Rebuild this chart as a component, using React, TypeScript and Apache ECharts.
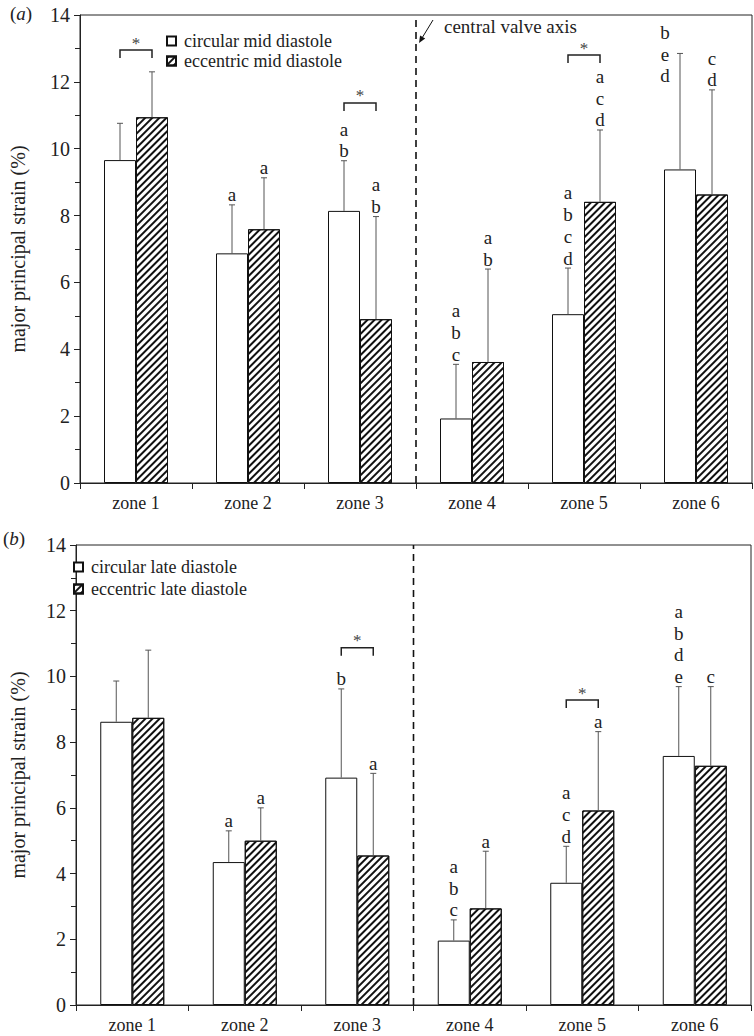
import React, { useEffect, useRef } from "react";
import * as echarts from "echarts";

const FONT = "'Liberation Serif', 'Times New Roman', serif";

const zones = ["zone 1", "zone 2", "zone 3", "zone 4", "zone 5", "zone 6"];

// panel (a) mid diastole
const circMid = [9.66, 6.87, 8.14, 1.93, 5.05, 9.38];
const circMidUpper = [10.76, 8.32, 9.64, 3.55, 6.43, 12.85];
const eccMid = [10.94, 7.59, 4.9, 3.62, 8.41, 8.63];
const eccMidUpper = [12.3, 9.13, 7.97, 6.4, 10.56, 11.76];
const circMidLetters = ["", "a", "ab", "abc", "abcd", "bed"];
const eccMidLetters = ["", "a", "ab", "ab", "acd", "cd"];
const midBracketZones = [0, 2, 4];
const midBracketLevel = [12.95, 11.37, 12.8];

// panel (b) late diastole
const circLate = [8.62, 4.35, 6.92, 1.96, 3.72, 7.58];
const circLateUpper = [9.86, 5.3, 9.62, 2.59, 4.83, 9.69];
const eccLate = [8.74, 5.0, 4.55, 2.94, 5.92, 7.28];
const eccLateUpper = [10.8, 6.0, 7.05, 4.68, 8.32, 9.69];
const circLateLetters = ["", "a", "b", "abc", "acd", "abde"];
const eccLateLetters = ["", "a", "a", "a", "a", "c"];
const lateBracketZones = [2, 4];
const lateBracketLevel = [10.87, 9.28];

const BAR_W = 32;
const INK = "#222";

const hatch = {
  symbol: "rect",
  symbolSize: 1,
  color: "#111",
  dashArrayX: [1, 0],
  dashArrayY: [2, 2.4],
  rotation: -Math.PI / 4,
};

function barSeries(name: string, data: number[], g: number, hatched: boolean) {
  return {
    type: "bar",
    name,
    xAxisIndex: g,
    yAxisIndex: g,
    data,
    barWidth: BAR_W,
    barGap: "0%",
    itemStyle: hatched
      ? { color: "#fff", borderColor: "#111", borderWidth: 1, decal: hatch }
      : { color: "#fff", borderColor: "#111", borderWidth: 1 },
    z: 2,
  };
}

function errSeries(
  g: number,
  means: number[],
  uppers: number[],
  letters: string[],
  side: number,
  override?: { index: number; dx: number; base: number }
) {
  return {
    type: "custom",
    xAxisIndex: g,
    yAxisIndex: g,
    silent: true,
    clip: false,
    z: 5,
    data: uppers.map((u, i) => [i, means[i], u]),
    encode: { x: 0, y: 2 },
    renderItem: (params: any, api: any) => {
      const i = params.dataIndex;
      const top = api.coord([api.value(0), api.value(2)]);
      const bot = api.coord([api.value(0), api.value(1)]);
      const x = top[0] + side * (BAR_W / 2);
      const children: any[] = [
        { type: "line", shape: { x1: x, y1: bot[1], x2: x, y2: top[1] }, style: { stroke: "#555", lineWidth: 1 } },
        { type: "line", shape: { x1: x - 3, y1: top[1], x2: x + 3, y2: top[1] }, style: { stroke: "#555", lineWidth: 1 } },
      ];
      const L = letters[i].split("");
      let lx = x;
      let ly = top[1] - 10;
      if (override && override.index === i) {
        lx = x + override.dx;
        ly = api.coord([i, override.base])[1] - 10;
      }
      L.forEach((ch, k) => {
        children.push({
          type: "text",
          style: {
            text: ch,
            x: lx,
            y: ly - (L.length - 1 - k) * 21.7,
            fill: INK,
            fontFamily: FONT,
            fontSize: 19,
            align: "center",
            verticalAlign: "middle",
          },
        });
      });
      return { type: "group", children };
    },
  };
}

function bracketSeries(g: number, zs: number[], levels: number[]) {
  return {
    type: "custom",
    xAxisIndex: g,
    yAxisIndex: g,
    silent: true,
    clip: false,
    z: 5,
    data: zs.map((z, i) => [z, levels[i]]),
    encode: { x: 0, y: 1 },
    renderItem: (params: any, api: any) => {
      const c = api.coord([api.value(0), api.value(1)]);
      const x1 = c[0] - BAR_W / 2;
      const x2 = c[0] + BAR_W / 2;
      const y = c[1];
      return {
        type: "group",
        children: [
          {
            type: "polyline",
            shape: { points: [[x1, y + 8], [x1, y], [x2, y], [x2, y + 8]] },
            style: { stroke: INK, lineWidth: 1.5, fill: "none" },
          },
          {
            type: "text",
            style: { text: "*", x: c[0], y: y - 7, fill: "#444", fontFamily: FONT, fontSize: 17, align: "center", verticalAlign: "middle" },
          },
        ],
      };
    },
  };
}

function dividerSeries(g: number, withNote: boolean) {
  return {
    type: "custom",
    xAxisIndex: g,
    yAxisIndex: g,
    silent: true,
    clip: false,
    z: 4,
    data: [[2, 0]],
    encode: { x: 0, y: 1 },
    renderItem: (params: any, api: any) => {
      const c0 = api.coord([2, 0]);
      const c1 = api.coord([2, 14]);
      const w = api.size([1, 0])[0];
      const x = c0[0] + w / 2;
      const children: any[] = [
        { type: "line", shape: { x1: x, y1: c0[1], x2: x, y2: c1[1] }, style: { stroke: "#111", lineWidth: 1.6, lineDash: [7, 5] } },
      ];
      if (withNote) {
        const sx = x + 17, sy = c1[1] + 5, ex = x + 3, ey = c1[1] + 28;
        const dx = ex - sx, dy = ey - sy;
        const len = Math.sqrt(dx * dx + dy * dy);
        const ux = dx / len, uy = dy / len;
        const hx = ex - ux * 7, hy = ey - uy * 7;
        children.push(
          { type: "line", shape: { x1: sx, y1: sy, x2: hx, y2: hy }, style: { stroke: "#111", lineWidth: 1 } },
          {
            type: "polygon",
            shape: { points: [[ex, ey], [hx - uy * 3, hy + ux * 3], [hx + uy * 3, hy - ux * 3]] },
            style: { fill: "#111" },
          },
          {
            type: "text",
            style: { text: "central valve axis", x: x + 28, y: c1[1] + 11, fill: INK, fontFamily: FONT, fontSize: 19, align: "left", verticalAlign: "middle" },
          }
        );
      }
      return { type: "group", children };
    },
  };
}

function xAxis(g: number) {
  return {
    type: "category",
    gridIndex: g,
    data: zones,
    axisLine: { lineStyle: { color: INK, width: 1 } },
    axisTick: { show: true, alignWithLabel: false, length: 6, lineStyle: { color: INK } },
    axisLabel: { color: INK, fontFamily: FONT, fontSize: 18, margin: 11 },
    splitLine: { show: false },
  };
}

function yAxis(g: number, gap: number) {
  return {
    type: "value",
    gridIndex: g,
    min: 0,
    max: 14,
    interval: 2,
    name: "major principal strain (%)",
    nameLocation: "middle",
    nameGap: gap,
    nameTextStyle: { color: INK, fontFamily: FONT, fontSize: 20 },
    axisLine: { show: true, lineStyle: { color: INK, width: 1 } },
    axisTick: { show: true, length: 6, lineStyle: { color: INK } },
    minorTick: { show: true, splitNumber: 2, length: 5, lineStyle: { color: INK } },
    axisLabel: { color: INK, fontFamily: FONT, fontSize: 20, margin: 10 },
    splitLine: { show: false },
    minorSplitLine: { show: false },
  };
}

const legendBase = {
  orient: "vertical",
  icon: "rect",
  itemWidth: 9,
  itemHeight: 9,
  padding: 0,
  selectedMode: false,
  textStyle: { color: INK, fontFamily: FONT, fontSize: 18, padding: [0, 0, 0, 3] },
};

export default function App() {
  const ref = useRef<HTMLDivElement>(null);
  useEffect(() => {
    document.body.style.margin = "0";
    const chart = echarts.init(ref.current!, null, { renderer: "svg" });
    chart.setOption({
      animation: false,
      backgroundColor: "#fff",
      grid: [
        { left: 70, top: 15, width: 682, height: 468, show: true, borderColor: INK, borderWidth: 1 },
        { left: 62, top: 545, width: 689, height: 460, show: true, borderColor: INK, borderWidth: 1 },
      ],
      xAxis: [xAxis(0), xAxis(1)],
      yAxis: [yAxis(0, 52), yAxis(1, 48)],
      legend: [
        { ...legendBase, left: 166, top: 32, itemGap: 2, data: ["circular mid diastole", "eccentric mid diastole"] },
        { ...legendBase, left: 73, top: 558, itemGap: 4, data: ["circular late diastole", "eccentric late diastole"] },
      ],
      graphic: [
        {
          type: "text",
          x: 10,
          y: 13,
          style: {
            text: "{n|(}{i|a}{n|)}",
            verticalAlign: "middle",
            rich: {
              n: { fontFamily: FONT, fontSize: 19, fill: INK },
              i: { fontFamily: FONT, fontSize: 19, fontStyle: "italic", fill: INK },
            },
          },
        },
        {
          type: "text",
          x: 3,
          y: 538,
          style: {
            text: "{n|(}{i|b}{n|)}",
            verticalAlign: "middle",
            rich: {
              n: { fontFamily: FONT, fontSize: 19, fill: INK },
              i: { fontFamily: FONT, fontSize: 19, fontStyle: "italic", fill: INK },
            },
          },
        },
      ],
      series: [
        barSeries("circular mid diastole", circMid, 0, false),
        barSeries("eccentric mid diastole", eccMid, 0, true),
        errSeries(0, circMid, circMidUpper, circMidLetters, -1, { index: 5, dx: -15, base: 11.88 }),
        errSeries(0, eccMid, eccMidUpper, eccMidLetters, 1),
        bracketSeries(0, midBracketZones, midBracketLevel),
        dividerSeries(0, true),
        barSeries("circular late diastole", circLate, 1, false),
        barSeries("eccentric late diastole", eccLate, 1, true),
        errSeries(1, circLate, circLateUpper, circLateLetters, -1),
        errSeries(1, eccLate, eccLateUpper, eccLateLetters, 1),
        bracketSeries(1, lateBracketZones, lateBracketLevel),
        dividerSeries(1, false),
      ],
    });
    return () => chart.dispose();
  }, []);
  return <div ref={ref} style={{ width: 754, height: 1036 }} />;
}
